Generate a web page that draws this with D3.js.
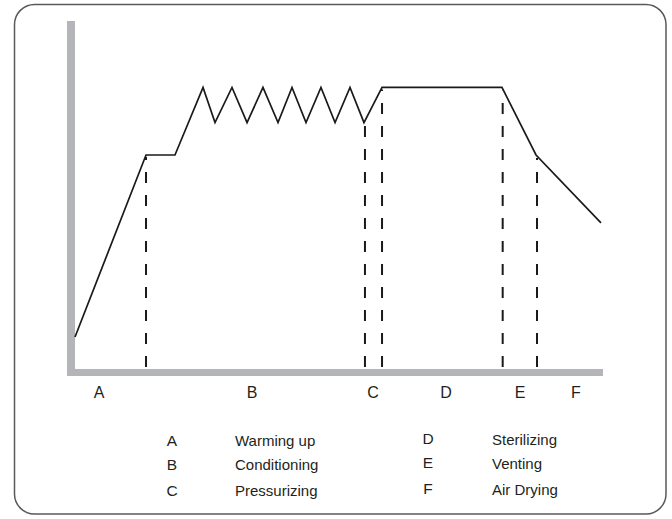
<!DOCTYPE html>
<html>
<head>
<meta charset="utf-8">
<script src="https://cdn.jsdelivr.net/npm/d3@7"></script>
<style>
    body { margin: 0; background: #fff; }
    text { font-family: 'Liberation Sans', Arial, Helvetica, sans-serif; fill: #231f20; }
</style>
</head>
<body>
<svg width="672" height="519"></svg>
<script>
// Sterilization cycle profile (time in minutes, chamber level in %)
let svg = d3.select('svg');
let width = +svg.attr('width');
let height = +svg.attr('height');

// Profile of the cycle
let profileTime  = [0, 8.07, 11.36, 14.55, 15.91, 17.84, 19.55, 21.36, 23.07, 24.66, 26.25, 27.95, 29.55, 31.25, 32.84, 34.89, 48.52, 52.39, 59.77];
let profileLevel = [9.2, 61.5, 61.5, 80.9, 70.8, 80.9, 70.8, 80.9, 70.8, 80.9, 70.8, 80.9, 70.8, 80.9, 70.8, 80.9, 80.9, 61.5, 42.0];

// Phase boundaries (dashed lines)
let boundaryTime = [8.07, 32.95, 34.89, 48.6, 52.5];

// Phase labels under the axis
let phaseCodes = ['A', 'B', 'C', 'D', 'E', 'F'];
let phaseLabelTime = [2.73, 20.11, 33.86, 42.16, 50.57, 56.93];
let phaseNames = ['Warming up', 'Conditioning', 'Pressurizing', 'Sterilizing', 'Venting', 'Air Drying'];

// Scales
let x = d3.scaleLinear().domain([0, 60]).range([75, 603]);
let y = d3.scaleLinear().domain([0, 100]).range([369, 21]);

// Frame
svg.append('rect')
    .attr('x', 14.5).attr('y', 4.5)
    .attr('width', 651.5).attr('height', 509.5)
    .attr('rx', 20).attr('ry', 20)
    .attr('fill', 'none')
    .attr('stroke', '#58595b')
    .attr('stroke-width', 1.5);

// Axes as thick grey bars
let axisColor = '#b4b5b8';
svg.append('line')
    .attr('x1', x(0) - 4).attr('x2', x(0) - 4)
    .attr('y1', y(100)).attr('y2', y(0) + 7)
    .attr('stroke', axisColor).attr('stroke-width', 8);
svg.append('line')
    .attr('x1', x(0) - 8).attr('x2', x(60))
    .attr('y1', y(0) + 3.5).attr('y2', y(0) + 3.5)
    .attr('stroke', axisColor).attr('stroke-width', 7);

// Interpolated level at a given time
let levelAt = function(t) {
    let i = d3.bisectRight(profileTime, t);
    if (i <= 0) return profileLevel[0];
    if (i >= profileTime.length) return profileLevel[profileLevel.length - 1];
    let t0 = profileTime[i - 1], t1 = profileTime[i];
    return d3.interpolateNumber(profileLevel[i - 1], profileLevel[i])((t - t0) / (t1 - t0));
};

// Dashed phase boundaries
svg.selectAll('.boundary')
    .data(boundaryTime)
    .enter().append('line')
    .attr('class', 'boundary')
    .attr('x1', d => x(d)).attr('x2', d => x(d))
    .attr('y1', y(0) - 2)
    .attr('y2', d => y(levelAt(d)) + 2)
    .attr('stroke', '#1a1a1a')
    .attr('stroke-width', 2)
    .attr('stroke-dasharray', '11,12');

// Profile line
let line = d3.line()
    .x((d, i) => x(profileTime[i]))
    .y(d => y(d));

svg.append('path')
    .datum(profileLevel)
    .attr('d', line)
    .attr('fill', 'none')
    .attr('stroke', '#1a1a1a')
    .attr('stroke-width', 1.7)
    .attr('stroke-linejoin', 'miter');

// Phase letters under the axis
svg.selectAll('.phase')
    .data(phaseCodes)
    .enter().append('text')
    .attr('class', 'phase')
    .attr('x', (d, i) => x(phaseLabelTime[i]))
    .attr('y', 398)
    .attr('text-anchor', 'middle')
    .attr('font-size', '16px')
    .text(d => d);

// Legend in two columns
let legendCol = [{code: 172, name: 235}, {code: 428, name: 492}];
let legendRow = [446, 470, 496];

let legend = svg.selectAll('.legend')
    .data(phaseCodes)
    .enter().append('g')
    .attr('class', 'legend');

legend.append('text')
    .attr('x', (d, i) => legendCol[Math.floor(i / 3)].code)
    .attr('y', (d, i) => legendRow[i % 3] - (i >= 3 ? 2 : 0))
    .attr('text-anchor', 'middle')
    .attr('font-size', '15.5px')
    .text(d => d);

legend.append('text')
    .attr('x', (d, i) => legendCol[Math.floor(i / 3)].name)
    .attr('y', (d, i) => legendRow[i % 3] - (i >= 3 ? 1 : 0))
    .attr('font-size', '15px')
    .text((d, i) => phaseNames[i]);
</script>
</body>
</html>
